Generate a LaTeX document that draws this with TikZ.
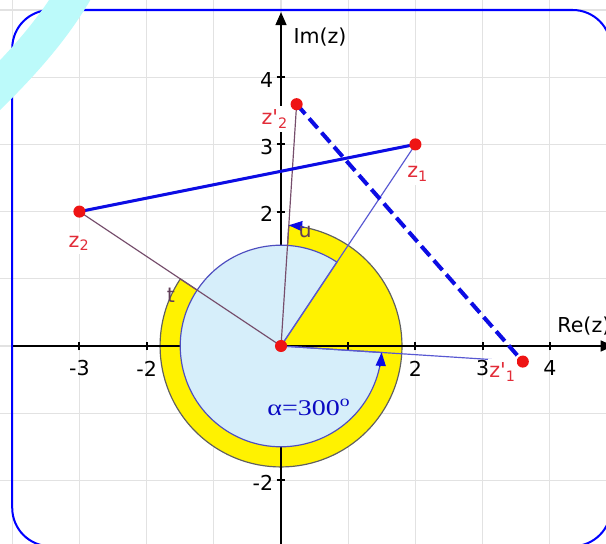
\documentclass[tikz,border=0pt]{standalone}
\usepackage{fontspec}
\usepackage{tikz}
\usetikzlibrary{arrows.meta}
\setmainfont{DejaVu Sans}
\newfontfamily\alphafont[FakeStretch=1.25]{Liberation Serif}

\definecolor{ptred}{RGB}{238,20,20}
\definecolor{labred}{RGB}{226,44,56}
\definecolor{segblue}{RGB}{12,12,228}
\definecolor{diskblue}{RGB}{214,238,250}
\definecolor{diskedge}{RGB}{78,78,192}
\definecolor{ringedge}{RGB}{96,96,96}
\definecolor{mauve}{RGB}{118,78,108}
\definecolor{spokeblue}{RGB}{88,88,210}
\definecolor{gridgray}{RGB}{226,226,226}
\definecolor{bandcyan}{RGB}{188,250,250}
\definecolor{anglelab}{RGB}{96,62,88}

\begin{document}
\begin{tikzpicture}[
    font=\fontsize{8.7}{10}\selectfont,
    gridline/.style={draw=gridgray, line width=0.5pt},
    axisline/.style={draw=black, line width=1pt, -{Triangle[length=5.5pt, width=4.5pt]}},
    tickmark/.style={draw=black, line width=0.9pt},
    ticklabel/.style={inner sep=0pt},
    zpoint/.style={circle, fill=ptred, inner sep=0pt, minimum size=0.18cm},
    zlabel/.style={text=labred, fill=white, inner xsep=0.4pt, inner ysep=1.5pt, anchor=base west},
    spoke/.style={line width=0.5pt},
    chord/.style={draw=segblue, line width=1.3pt},
    imagechord/.style={draw=segblue, line width=1.7pt, dash pattern=on 5.5pt off 2.5pt},
    anglearrow/.style={draw=segblue, line width=0.5pt, -{Triangle[length=0.2cm, width=0.15cm]}},
    frame/.style={draw=blue, line width=0.85pt, rounded corners=0.57cm},
    band/.style={draw=bandcyan, line width=0.52cm}
]
    \useasboundingbox (-4.182,-2.946) rectangle (4.836,5.149);

    % Grid
    \foreach \x in {-4,...,4} \draw[gridline] (\x,-2.95) -- (\x,5.15);
    \foreach \y in {-2,...,5} \draw[gridline] (-4.19,\y) -- (4.84,\y);

    \coordinate (O) at (0,0);
    \coordinate (z1) at (2,3);
    \coordinate (z2) at (-3,2);
    \coordinate (z1r) at (3.598,-0.232);
    \coordinate (z2r) at (0.232,3.598);

    % Angle u (yellow)
    \filldraw[fill=yellow, draw=ringedge, line width=0.5pt] (O) -- (146.31:1.8) arc[start angle=146.31, end angle=446.31, radius=1.8] -- cycle;

    % Axes
    \draw[axisline] (-4.0,0) -- (4.95,0);
    \draw[axisline] (0,-3.0) -- (0,4.97);
    \foreach \x in {-3,-2,-1,1,2,3,4} \draw[tickmark] (\x,-0.065) -- (\x,0.065);
    \foreach \y in {-2,-1,1,2,3,4} \draw[tickmark] (-0.065,\y) -- (0.065,\y);
    \foreach \x in {-3,-2,2,3,4} \node[ticklabel] (xl\x) at (\x,-0.335) {\x};
    \foreach \y in {-2,2,3,4} \node[ticklabel, anchor=east] (yl\y) at (-0.11,\y-0.035) {\y};
    \node[ticklabel, anchor=west] (re) at (4.107,0.298) {Re(z)};
    \node[ticklabel, anchor=west] (im) at (0.179,4.60) {Im(z)};

    % Angle alpha (light blue)
    \filldraw[fill=diskblue, draw=diskedge, line width=0.5pt] (O) -- (56.31:1.5) arc[start angle=56.31, end angle=356.31, radius=1.5] -- cycle;

    % Connectors
    \draw[spoke, draw=mauve] (O) -- (z2);
    \draw[spoke, draw=mauve] (O) -- (z2r);
    \draw[spoke, draw=spokeblue] (O) -- (z1);
    \draw[spoke, draw=spokeblue] (O) -- (z1r);
    \draw[anglearrow] (348:1.5) arc[start angle=348, end angle=356.31, radius=1.5];
    \draw[anglearrow] (79:1.8) arc[start angle=79, end angle=86.31, radius=1.8];
    \draw[chord] (z2) -- (z1);
    \draw[imagechord] (z2r) -- (z1r);

    \node[zpoint] (pO) at (O) {};
    \node[zpoint] (p1) at (z1) {};
    \node[zpoint] (p2) at (z2) {};
    \node[zpoint] (p1r) at (z1r) {};
    \node[zpoint] (p2r) at (z2r) {};

    \node[zlabel] (lz1) at (1.86,2.50) {z\textsubscript{1}};
    \node[zlabel] (lz2) at (-3.18,1.47) {z\textsubscript{2}};
    \node[zlabel] (lz1r) at (3.08,-0.476) {z\textquotesingle\textsubscript{1}};
    \node[zlabel] (lz2r) at (-0.31,3.29) {z\textquotesingle\textsubscript{2}};
    \node[text=anglelab] (lt) at (-1.64,0.76) {t};
    \node[text=anglelab] (lu) at (0.357,1.70) {u};
    \node[inner sep=0pt, anchor=base west, text=segblue!85!black] (la) at (-0.21,-1.03)
        {\alphafont\fontsize{9.5}{11}\selectfont α=300\textsuperscript{o}};

    % Frame
    \draw[frame] (-4.0,-2.98) rectangle (4.91,5.0);
    \draw[band] (-4.40,3.66) .. controls (-3.85,4.2) and (-3.4,4.7) .. (-3.05,5.3);
\end{tikzpicture}
\end{document}
